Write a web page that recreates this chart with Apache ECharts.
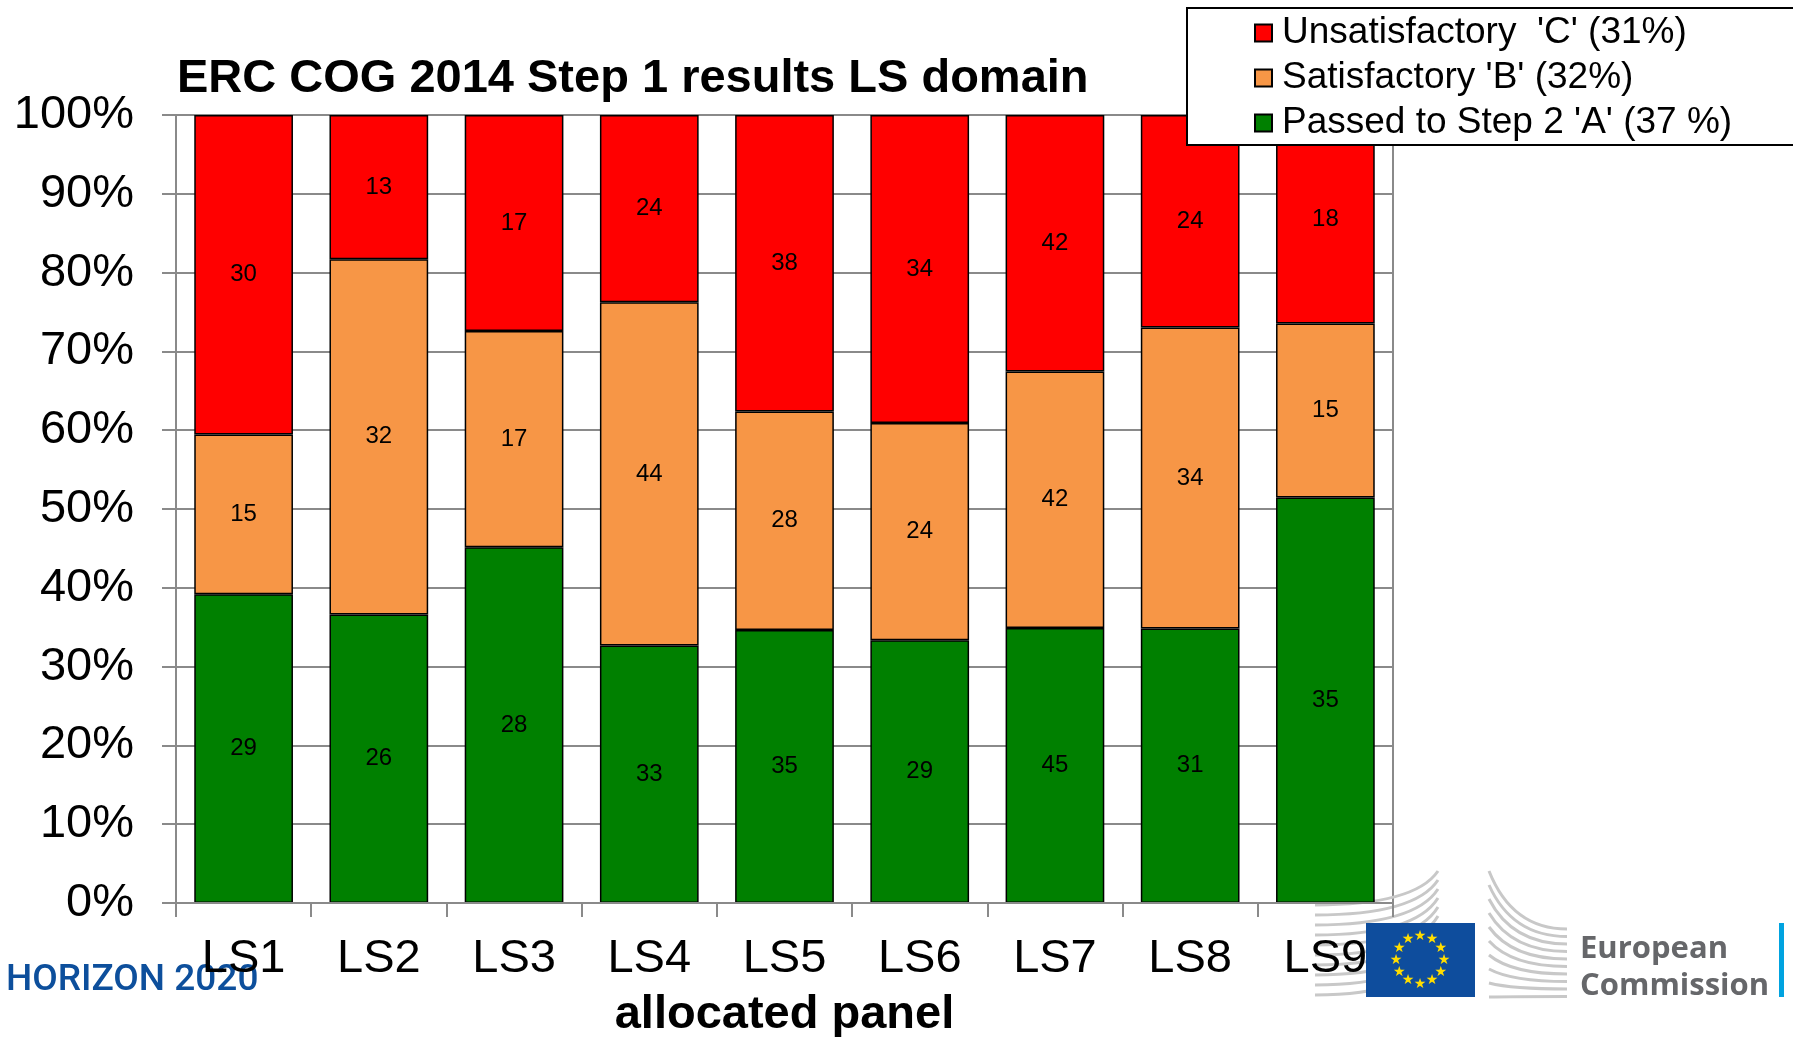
<!DOCTYPE html>
<html>
<head>
<meta charset="utf-8">
<title>ERC COG 2014 Step 1 results LS domain</title>
<script src="https://cdn.jsdelivr.net/npm/echarts@6/dist/echarts.min.js"></script>
<style>
  html, body { margin: 0; padding: 0; background: #fff; }
  #chart { width: 1793px; height: 1037px; }
</style>
</head>
<body>
<div id="chart"></div>
<script>
// panels and number of proposals per grade (labels show counts, bars show share)
const panels = ['LS1', 'LS2', 'LS3', 'LS4', 'LS5', 'LS6', 'LS7', 'LS8', 'LS9'];
const passedA = [29, 26, 28, 33, 35, 29, 45, 31, 35];
const satisfactoryB = [15, 32, 17, 44, 28, 24, 42, 34, 15];
const unsatisfactoryC = [30, 13, 17, 24, 38, 34, 42, 24, 18];
const yTicks = [0, 10, 20, 30, 40, 50, 60, 70, 80, 90, 100];

const names = {
    a: "Passed to Step 2 'A' (37 %)",
    b: "Satisfactory 'B' (32%)",
    c: "Unsatisfactory  'C' (31%)"
};

const totals = panels.map((p, i) => passedA[i] + satisfactoryB[i] + unsatisfactoryC[i]);
const share = arr => arr.map((v, i) => v / totals[i] * 100);

const FONT = "'Liberation Sans', Arial, sans-serif";
const GRAY = '#8a8a8a';

// stacked bar series, the label shows the raw count
const makeSeries = (name, counts, color) => ({
    name: name,
    type: 'bar',
    stack: 'total',
    barCategoryGap: '27%',
    data: share(counts),
    itemStyle: { color: color, borderColor: '#000', borderWidth: 1.5 },
    label: {
        show: true,
        position: 'inside',
        color: '#000',
        fontSize: 24,
        fontFamily: FONT,
        formatter: p => counts[p.dataIndex]
    },
    emphasis: { disabled: true }
});

// EU flag stars around a circle
const stars = [];
for (let k = 0; k < 12; k++) {
    const ang = k / 12 * Math.PI * 2;
    stars.push({
        type: 'text',
        z: 101,
        style: {
            text: '★',
            x: 1420 + Math.sin(ang) * 24,
            y: 960 - Math.cos(ang) * 24,
            fill: '#ffdd00',
            font: '14px "DejaVu Sans"',
            align: 'center',
            verticalAlign: 'middle'
        }
    });
}

// light gray swoosh lines of the commission logo
const swoosh = [];
for (let k = 0; k < 10; k++) {
    const y0 = 905 + k * 10, y1 = 871 + k * 9;
    swoosh.push({
        type: 'bezierCurve', z: 0,
        shape: { x1: 1315, y1: y0, x2: 1438, y2: y1, cpx1: 1415, cpy1: y0 },
        style: { stroke: '#c8c8c8', lineWidth: 3, fill: null }
    });
    const s0 = 871 + k * 14, s1 = 929 + k * 7.5;
    swoosh.push({
        type: 'bezierCurve', z: 0,
        shape: { x1: 1489, y1: s0, x2: 1567, y2: s1, cpx1: 1512, cpy1: s1 },
        style: { stroke: '#c8c8c8', lineWidth: 3, fill: null }
    });
}

const chart = echarts.init(document.getElementById('chart'));
chart.setOption({
    animation: false,
    backgroundColor: '#fff',
    title: {
        text: 'ERC COG 2014 Step 1 results LS domain',
        left: 177,
        top: 56,
        padding: 0,
        textStyle: { fontFamily: FONT, fontSize: 47, fontWeight: 'bold', color: '#000' }
    },
    legend: {
        orient: 'vertical',
        left: 1187,
        top: 8,
        padding: [5, 90, 2, 67],
        itemGap: 5,
        itemWidth: 17,
        itemHeight: 17,
        icon: 'rect',
        backgroundColor: '#fff',
        borderColor: '#000',
        borderWidth: 2,
        borderRadius: 0,
        data: [names.c, names.b, names.a],
        textStyle: { fontFamily: FONT, fontSize: 37, color: '#000', lineHeight: 40, padding: [0, 0, 0, 5] },
        selectedMode: false
    },
    grid: {
        left: 176, right: 400, top: 115, bottom: 134,
        outerBoundsMode: 'none',
        containLabel: false,
        show: true, borderColor: GRAY, borderWidth: 2, backgroundColor: 'transparent'
    },
    xAxis: {
        type: 'category',
        data: panels,
        z: 5,
        name: 'allocated panel',
        nameLocation: 'middle',
        nameGap: 89,
        nameTextStyle: { fontFamily: FONT, fontSize: 47, fontWeight: 'bold', color: '#000' },
        axisLine: { lineStyle: { color: GRAY, width: 2 } },
        axisTick: { show: true, interval: 0, length: 14, lineStyle: { color: GRAY, width: 2 } },
        axisLabel: { interval: 0, margin: 33, fontFamily: FONT, fontSize: 47, color: '#000' }
    },
    yAxis: {
        type: 'value',
        min: yTicks[0],
        max: yTicks[yTicks.length - 1],
        interval: yTicks[1] - yTicks[0],
        axisLine: { show: true, lineStyle: { color: GRAY, width: 2 } },
        axisTick: { show: true, length: 14, lineStyle: { color: GRAY, width: 2 } },
        splitLine: { show: true, lineStyle: { color: GRAY, width: 2 } },
        axisLabel: { margin: 42, fontFamily: FONT, fontSize: 47, color: '#000', formatter: '{value}%' }
    },
    series: [
        makeSeries(names.a, passedA, '#008000'),
        makeSeries(names.b, satisfactoryB, '#f79646'),
        makeSeries(names.c, unsatisfactoryC, '#ff0000')
    ],
    graphic: [
        {
            type: 'text', z: 0,
            style: {
                text: 'HORIZON 2020', x: 6, y: 981,
                fill: '#0d4f9c',
                font: '500 37px Roboto',
                verticalAlign: 'middle'
            }
        },
        ...swoosh,
        { type: 'rect', z: 100, shape: { x: 1366, y: 923, width: 109, height: 74 }, style: { fill: '#0e4d9d' } },
        ...stars,
        {
            type: 'text', z: 1,
            style: {
                text: 'European', x: 1580, y: 949,
                fill: '#66676a', font: '700 31px "Open Sans"', verticalAlign: 'middle'
            }
        },
        {
            type: 'text', z: 1,
            style: {
                text: 'Commission', x: 1580, y: 986,
                fill: '#66676a', font: '700 31px "Open Sans"', verticalAlign: 'middle'
            }
        },
        { type: 'rect', z: 1, shape: { x: 1779, y: 923, width: 5, height: 74 }, style: { fill: '#00a3e0' } }
    ]
});
</script>
</body>
</html>
